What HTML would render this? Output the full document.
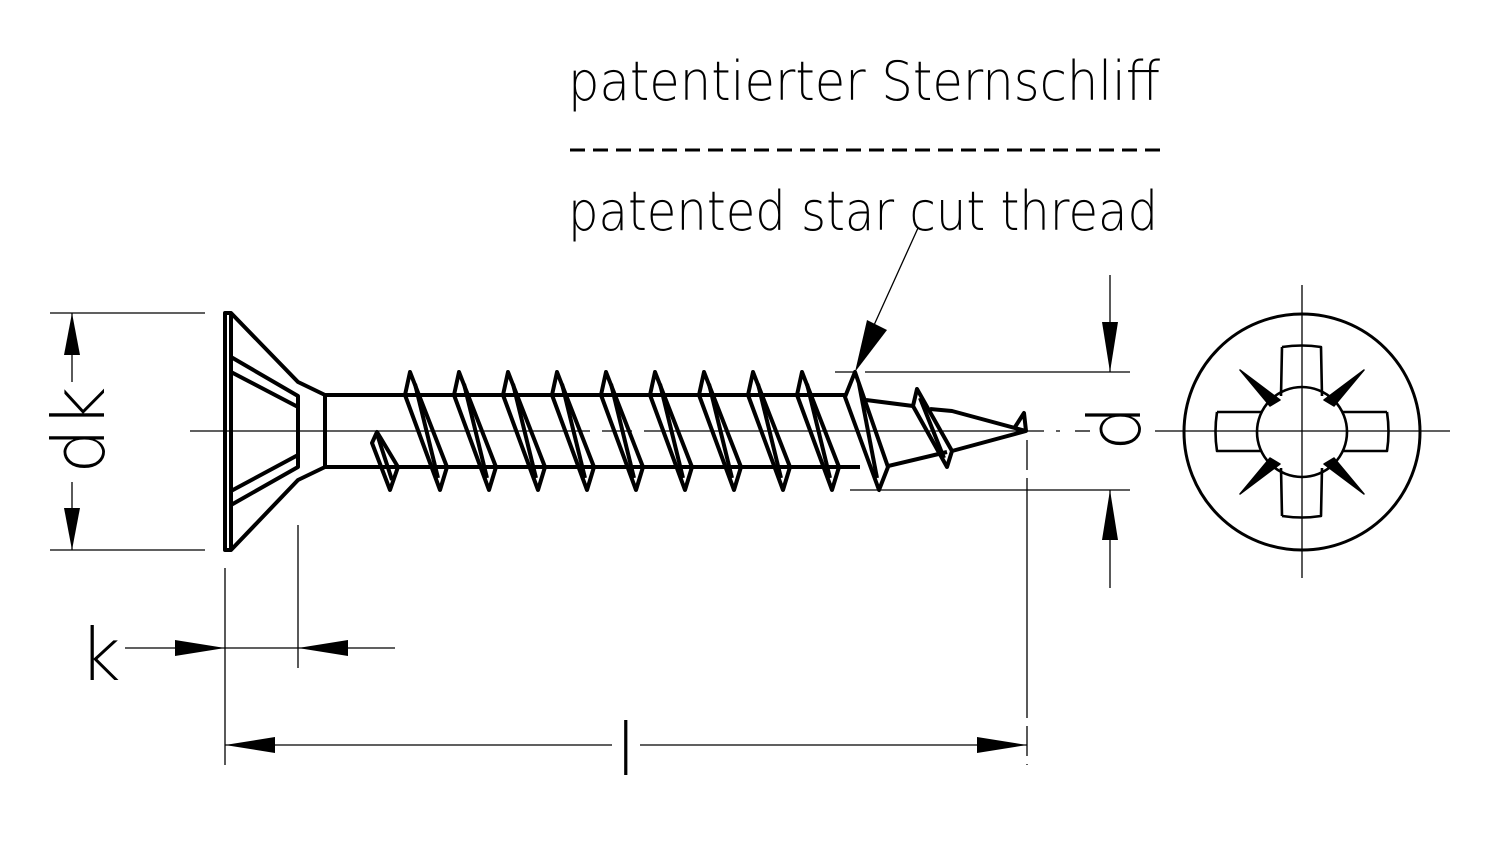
<!DOCTYPE html>
<html><head><style>body{margin:0;background:#fff}svg{display:block}</style></head><body>
<svg width="1485" height="848" viewBox="0 0 1485 848" xmlns="http://www.w3.org/2000/svg">
<rect width="1485" height="848" fill="#fff"/>
<g fill="none" stroke="#000" stroke-width="1.3">
<line x1="190" y1="431" x2="1060" y2="431" stroke-dasharray="400 12 30 12"/>
<line x1="1075" y1="431" x2="1090" y2="431"/>
<line x1="1155" y1="431" x2="1450" y2="431"/>
<line x1="1302" y1="285" x2="1302" y2="578"/>
<line x1="50" y1="313" x2="205" y2="313"/><line x1="50" y1="550" x2="205" y2="550"/>
<line x1="72" y1="313" x2="72" y2="382"/><line x1="72" y1="482" x2="72" y2="550"/>
<line x1="225" y1="568" x2="225" y2="765"/><line x1="298" y1="525" x2="298" y2="668"/>
<line x1="125" y1="648" x2="395" y2="648"/>
<line x1="225" y1="745" x2="612" y2="745"/><line x1="640" y1="745" x2="1027" y2="745"/>
<line x1="1027" y1="440" x2="1027" y2="765" stroke-dasharray="30 8 240 8"/>
<line x1="835" y1="372" x2="1130" y2="372" stroke-dasharray="20 10 400"/>
<line x1="850" y1="490" x2="1130" y2="490"/>
<line x1="1110" y1="275" x2="1110" y2="372"/><line x1="1110" y1="490" x2="1110" y2="588"/>
<line x1="918" y1="228" x2="865" y2="345"/>
<line x1="570" y1="150" x2="1165" y2="150" stroke-width="3" stroke-dasharray="15 8"/>
</g>
<g fill="#000">
<polygon points="72,313 64,355 80,355"/><polygon points="72,550 64,508 80,508"/>
<polygon points="225,648 175,640 175,656"/><polygon points="298,648 348,640 348,656"/>
<polygon points="225,745 275,737 275,753"/><polygon points="1027,745 977,737 977,753"/>
<polygon points="1110,372 1102,322 1118,322"/><polygon points="1110,490 1102,540 1118,540"/>
<polygon points="855,372 867,320 887,330"/>
</g>
<g fill="none" stroke="#000" stroke-width="4" stroke-linejoin="round">
<polygon points="225,313 231,313 298,382 325,395 325,467 298,480 231,550 225,550"/>
<line x1="231" y1="313" x2="231" y2="550"/>
<polyline points="231,357 298,396 298,467 231,505"/>
<polyline points="231,372 298,407"/><polyline points="231,491 298,455"/>
<line x1="325" y1="395" x2="845" y2="395"/><line x1="325" y1="467" x2="860" y2="467"/>
<polygon points="372,443 377,432 398,467 390,490"/>
<line x1="377" y1="434" x2="392" y2="480"/>
<g id="t">
<polygon points="405,395 410,372 447,467 440,490"/>
<line x1="415" y1="384" x2="438" y2="478"/>
</g>
<use href="#t" x="49"/><use href="#t" x="98"/><use href="#t" x="147"/><use href="#t" x="196"/><use href="#t" x="245"/><use href="#t" x="294"/><use href="#t" x="343"/><use href="#t" x="392"/>
<polygon points="845,397 855,372 888,467 879,490"/>
<line x1="859" y1="384" x2="877" y2="478"/>
<polyline points="866,400 913,406"/><polyline points="888,466 947,452"/>
<polygon points="913,406 917,389 952,451 947,467"/>
<line x1="920" y1="398" x2="944" y2="458"/>
<polyline points="930,409 952,411 1026,431 952,451"/>
<polyline points="1015,427 1024,413 1026,431"/>
<circle cx="1302" cy="432" r="118" stroke-width="3"/>
<path d="M1282,347 Q1302,344 1321,347 L1322,396 M1282,347 L1281,396 M1282,516 Q1302,519 1321,516 L1322,468 M1282,516 L1281,468 M1217,412 Q1214,432 1217,451 L1262,451 M1217,412 L1262,412 M1387,412 Q1390,432 1387,451 L1342,451 M1387,412 L1342,412" stroke-width="2.6"/>
<circle cx="1302" cy="432" r="45" stroke-width="2.6"/>
</g>
<g fill="#000" stroke="#000" stroke-width="1.5" stroke-linejoin="round">
<polygon points="1240,370 1280,400 1270,406"/>
<polygon points="1364,370 1324,400 1334,406"/>
<polygon points="1240,494 1280,464 1270,458"/>
<polygon points="1364,494 1324,464 1334,458"/>
</g>
<g font-family="DejaVu Sans, Liberation Sans, sans-serif" font-weight="200" fill="#000">
<text x="568" y="100" font-size="54" textLength="592" lengthAdjust="spacingAndGlyphs">patentierter Sternschliff</text>
<text x="568" y="230" font-size="54" textLength="590" lengthAdjust="spacingAndGlyphs">patented star cut thread</text>
<text transform="translate(104,430) rotate(-90)" text-anchor="middle" font-size="72">dk</text>
<text transform="translate(1140,428) rotate(-90)" text-anchor="middle" font-size="72">d</text>
<text x="100" y="680" text-anchor="middle" font-size="72">k</text>
<text x="626" y="775" text-anchor="middle" font-size="72">l</text>
</g>
</svg>
</body></html>
